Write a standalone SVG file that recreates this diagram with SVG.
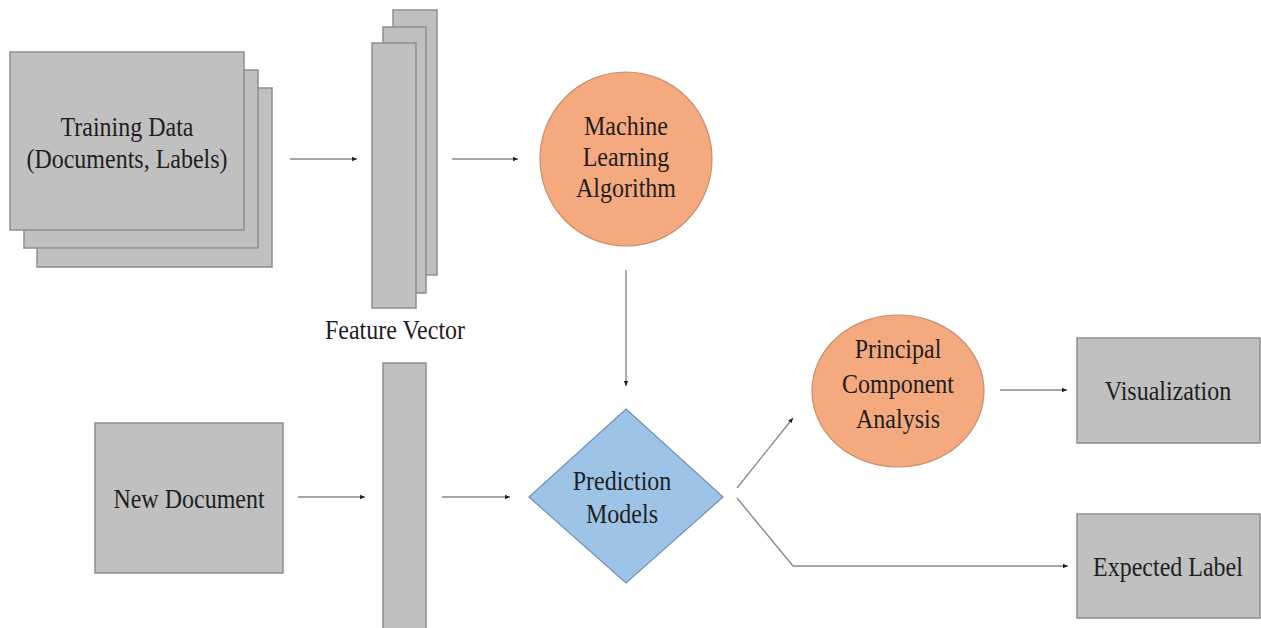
<svg xmlns="http://www.w3.org/2000/svg" width="1261" height="628" viewBox="0 0 1261 628">
  <style>
    .box { fill: #c0c0c0; stroke: #8e8e8e; stroke-width: 1.5; }
    .orange { fill: #f4aa7e; stroke: #c98d6c; stroke-width: 1.2; }
    .blue { fill: #9dc3e6; stroke: #6f90b2; stroke-width: 1.2; }
    .lbl { font-family: "Liberation Serif", "Times New Roman", serif; font-size: 24px; fill: #1e1e1e; text-anchor: middle; }
    .edge { fill: none; stroke: #8a8a8a; stroke-width: 1.4; }
  </style>
  <defs>
    <marker id="arr" markerUnits="userSpaceOnUse" markerWidth="6" markerHeight="6" refX="5" refY="3" orient="auto">
      <path d="M0,0.8 L5,3 L0,5.2 Z" fill="#222"/>
    </marker>
  </defs>
  <rect width="1261" height="628" fill="#ffffff"/>

  <g id="training-data">
    <rect class="box" x="37" y="88" width="235" height="179"/>
    <rect class="box" x="24" y="70" width="234" height="178"/>
    <rect class="box" x="10" y="52" width="234" height="178"/>
    <text class="lbl" transform="translate(127,136) scale(1,1.12)">Training Data</text>
    <text class="lbl" transform="translate(127,168) scale(1,1.12)">(Documents, Labels)</text>
  </g>

  <g id="feature-vector">
    <rect class="box" x="393" y="10" width="44" height="265"/>
    <rect class="box" x="383" y="27" width="43" height="266"/>
    <rect class="box" x="372" y="43" width="44" height="265"/>
    <text class="lbl" transform="translate(395,339) scale(1,1.12)">Feature Vector</text>
  </g>

  <g id="ml-algorithm">
    <ellipse class="orange" cx="626" cy="159" rx="86" ry="87"/>
    <text class="lbl" transform="translate(626,135) scale(1,1.12)">Machine</text>
    <text class="lbl" transform="translate(626,166) scale(1,1.12)">Learning</text>
    <text class="lbl" transform="translate(626,197) scale(1,1.12)">Algorithm</text>
  </g>

  <g id="new-document">
    <rect class="box" x="95" y="423" width="188" height="150"/>
    <text class="lbl" transform="translate(189,508) scale(1,1.12)">New Document</text>
  </g>

  <g id="feature-vector-new">
    <rect class="box" x="383" y="363" width="43" height="270"/>
  </g>

  <g id="prediction-models">
    <polygon class="blue" points="626,409 723,497 626,583 529,497"/>
    <text class="lbl" transform="translate(622,490) scale(1,1.12)">Prediction</text>
    <text class="lbl" transform="translate(622,523) scale(1,1.12)">Models</text>
  </g>

  <g id="pca">
    <ellipse class="orange" cx="898" cy="391" rx="86" ry="76"/>
    <text class="lbl" transform="translate(898,358) scale(1,1.12)">Principal</text>
    <text class="lbl" transform="translate(898,393) scale(1,1.12)">Component</text>
    <text class="lbl" transform="translate(898,428) scale(1,1.12)">Analysis</text>
  </g>

  <g id="visualization">
    <rect class="box" x="1077" y="338" width="183" height="105"/>
    <text class="lbl" transform="translate(1168,400) scale(1,1.12)">Visualization</text>
  </g>

  <g id="expected-label">
    <rect class="box" x="1077" y="514" width="183" height="104"/>
    <text class="lbl" transform="translate(1168,576) scale(1,1.12)">Expected Label</text>
  </g>

  <g id="connectors">
    <line class="edge" x1="290" y1="159" x2="357" y2="159" marker-end="url(#arr)"/>
    <line class="edge" x1="452" y1="159" x2="518" y2="159" marker-end="url(#arr)"/>
    <line class="edge" x1="626" y1="270" x2="626" y2="386" marker-end="url(#arr)"/>
    <line class="edge" x1="298" y1="497" x2="365" y2="497" marker-end="url(#arr)"/>
    <line class="edge" x1="442" y1="497" x2="510" y2="497" marker-end="url(#arr)"/>
    <line class="edge" x1="737" y1="488" x2="793" y2="418" marker-end="url(#arr)"/>
    <polyline class="edge" points="737,498 793,566 1068,566" marker-end="url(#arr)"/>
    <line class="edge" x1="1000" y1="390" x2="1067" y2="390" marker-end="url(#arr)"/>
  </g>
</svg>
